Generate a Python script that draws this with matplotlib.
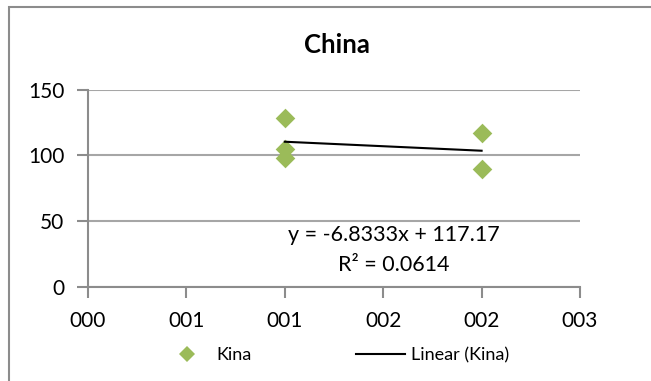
import numpy as np
import matplotlib
matplotlib.use("Agg")
import matplotlib.pyplot as plt
from matplotlib.lines import Line2D
from matplotlib.patches import Rectangle
from matplotlib.ticker import FuncFormatter, MultipleLocator

plt.rcParams['font.family'] = ['Lato', 'DejaVu Sans']

# observations for China
x_vals = [1, 1, 1, 2, 2]
y_vals = [128, 105, 98, 117, 90]
series_name = 'Kina'
chart_title = 'China'

green = '#9BBB59'
grid_gray = '#a6a6a6'
axis_gray = '#8c8c8c'

# least squares trend line
slope, intercept = np.polyfit(x_vals, y_vals, 1)
fitted = slope * np.array(x_vals) + intercept
ss_res = np.sum((np.array(y_vals) - fitted) ** 2)
ss_tot = np.sum((np.array(y_vals) - np.mean(y_vals)) ** 2)
r2 = 1 - ss_res / ss_tot

fig = plt.figure(figsize=(6.51, 3.81), dpi=100)
ax = fig.add_axes([88 / 651, 1 - 287 / 381, (580 - 88) / 651, (287 - 89.5) / 381])

# outer chart border
fig.patches.append(Rectangle((8.5 / 651, -0.1), 1.2, 1.1 - 7 / 381, transform=fig.transFigure,
                             fill=False, edgecolor=axis_gray, linewidth=1.5))

ax.scatter(x_vals, y_vals, marker='D', s=100, color=green, linewidths=0, zorder=3)
xl = np.array([min(x_vals), max(x_vals)])
ax.plot(xl, slope * xl + intercept, color='black', linewidth=1.5, zorder=4)

ax.set_xlim(0, 2.5)
ax.set_ylim(0, 150)
ax.xaxis.set_major_locator(MultipleLocator(0.5))
ax.yaxis.set_major_locator(MultipleLocator(50))
ax.xaxis.set_major_formatter(FuncFormatter(lambda v, p: f"{int(np.floor(v + 0.5)):03d}"))
ax.grid(axis='y', color=grid_gray, linewidth=1.5)
ax.set_axisbelow(True)
for side in ['top', 'right']:
    ax.spines[side].set_visible(False)
for side in ['left', 'bottom']:
    ax.spines[side].set_color(axis_gray)
    ax.spines[side].set_linewidth(1.5)
ax.tick_params(axis='both', direction='out', length=8, width=1.5, color=axis_gray,
               labelsize=15, labelcolor='black')
ax.tick_params(axis='x', pad=9)
ax.tick_params(axis='y', pad=9)

fig.text(337 / 651, 1 - 45 / 381, chart_title, ha='center', va='center',
         fontsize=18.5, fontweight='bold')

ax.text(394 / 651, 1 - 235 / 381, f"y = {slope:.4f}x + {intercept:.2f}", transform=fig.transFigure,
        ha='center', va='center', fontsize=15.5)
ax.text(394 / 651, 1 - 265 / 381, f"R\u00b2 = {r2:.4f}", transform=fig.transFigure,
        ha='center', va='center', fontsize=15.5)

handles = [Line2D([], [], marker='D', linestyle='none', markersize=8, color=green, markeredgewidth=0),
           Line2D([], [], color='black', linewidth=1.5)]
fig.legend(handles, [series_name, f"Linear ({series_name})"], loc='center left',
           bbox_to_anchor=(155 / 651, 1 - 355 / 381), borderaxespad=0, ncol=2, frameon=False,
           fontsize=13, handlelength=2.7, handletextpad=0.3, columnspacing=5.8)

fig.savefig('out.png', dpi=100)
